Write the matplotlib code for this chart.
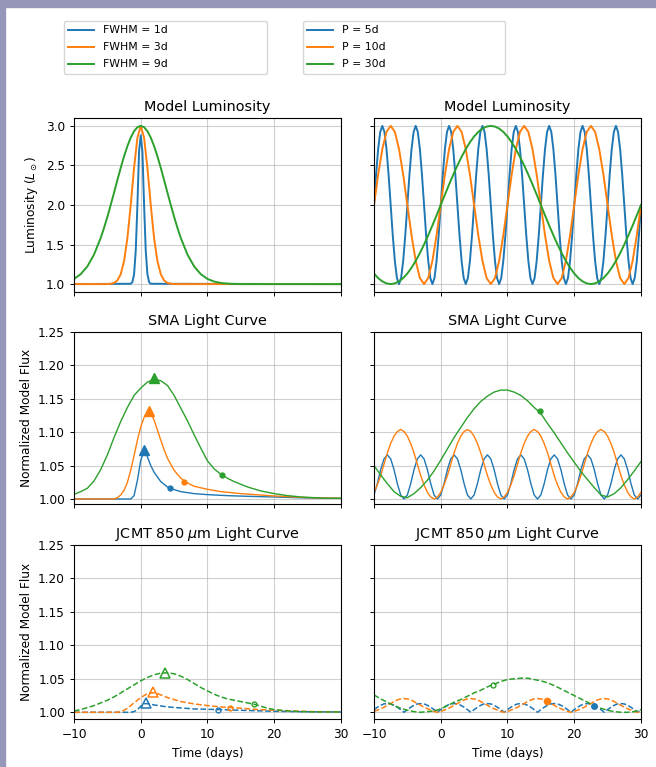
import matplotlib
matplotlib.use("Agg")
import matplotlib.pyplot as plt
import numpy as np
from matplotlib.patches import Rectangle

# ---------------- data ----------------
fwhm_labels = ["FWHM = 1d", "FWHM = 3d", "FWHM = 9d"]
period_labels = ["P = 5d", "P = 10d", "P = 30d"]
colors = ["C0", "C1", "C2"]

# model luminosity, burst (left column)
t_lum_fwhm1 = [-10, -1.5, -1.25, -1.0, -0.75, -0.5, -0.25, 0.0, 0.25, 0.5, 0.75, 1.0, 1.25, 1.5, 30]
lum_fwhm1 = [1.0, 1.004, 1.026, 1.125, 1.42, 2.0, 2.68, 2.88, 2.68, 2.0, 1.42, 1.125, 1.026, 1.004, 1.0]
t_lum_fwhm3 = [-10, -6, -5.5, -5, -4.5, -4, -3.5, -3, -2.5, -2, -1.5, -1, -0.5, 0,
               0.5, 1, 1.5, 2, 2.5, 3, 3.5, 4, 4.5, 5, 5.5, 6, 30]
lum_fwhm3 = [1.0, 1.0, 1.0, 1.001, 1.004, 1.014, 1.046, 1.125, 1.29, 1.58, 2.0, 2.47, 2.85, 3.0,
             2.85, 2.47, 2.0, 1.58, 1.29, 1.125, 1.046, 1.014, 1.004, 1.001, 1.0, 1.0, 1.0]
t_lum_fwhm9 = [-10, -9, -8, -7, -6, -5.5, -5, -4.5, -4, -3.5, -3, -2.5, -2, -1.5, -1, -0.5, 0,
               0.5, 1, 1.5, 2, 2.5, 3, 3.5, 4, 4.5, 5, 5.5, 6, 7, 8, 9, 10, 11, 12, 13, 14,
               15, 16, 30]
lum_fwhm9 = [1.065, 1.125, 1.223, 1.373, 1.583, 1.710, 1.85, 2.0, 2.156, 2.315, 2.47, 2.615,
             2.744, 2.852, 2.933, 2.983, 3.0, 2.983, 2.933, 2.852, 2.744, 2.615, 2.47, 2.315,
             2.156, 2.0, 1.85, 1.710, 1.583, 1.373, 1.223, 1.125, 1.065, 1.032, 1.014, 1.006,
             1.002, 1.0, 1.0, 1.0]

# SMA light curve, burst
t_sma_fwhm1 = [-10, -1.5, -1.0, -0.5, 0.0, 0.5, 1.0, 1.5, 2.0, 3.0, 4.0, 5.0, 6.0, 8.0,
               10.0, 13.0, 16.0, 20.0, 25.0, 30.0]
sma_fwhm1 = [1.0, 1.0, 1.005, 1.028, 1.058, 1.072, 1.063, 1.050, 1.040, 1.026, 1.018, 1.014,
             1.011, 1.008, 1.0065, 1.005, 1.004, 1.003, 1.0015, 1.001]
t_sma_fwhm3 = [-10, -4, -3.5, -3, -2.5, -2, -1.5, -1, -0.5, 0, 0.5, 1.0, 1.25, 1.5, 2, 2.5,
               3, 3.5, 4, 5, 6, 7, 8, 10, 12, 15, 20, 25, 30]
sma_fwhm3 = [1.0, 1.0, 1.002, 1.006, 1.013, 1.025, 1.043, 1.065, 1.088, 1.108, 1.122, 1.130,
             1.131, 1.129, 1.118, 1.103, 1.088, 1.074, 1.061, 1.043, 1.031, 1.024, 1.019,
             1.0145, 1.011, 1.008, 1.0045, 1.002, 1.001]
t_daily = np.linspace(-10, 30, 41)
sma_fwhm9 = [1.007, 1.011, 1.016, 1.027, 1.044, 1.066, 1.092, 1.116, 1.137, 1.155, 1.166,
             1.175, 1.179, 1.177, 1.170, 1.155, 1.136, 1.117, 1.096, 1.076, 1.057,
             1.045, 1.037, 1.031, 1.026, 1.022, 1.018, 1.015, 1.012, 1.010, 1.008,
             1.0065, 1.005, 1.004, 1.003, 1.0025, 1.002, 1.0015, 1.001, 1.001, 1.001]
sma_peak_t = [0.53, 1.24, 1.94]
sma_peak = [1.073, 1.132, 1.181]
sma_mark_t = [4.4, 6.5, 12.1]
sma_mark = [1.0165, 1.026, 1.036]

# JCMT light curve, burst
t_jcmt_fwhm1 = [-10, -1.5, -1, -0.5, 0, 0.5, 0.75, 1, 1.5, 2, 3, 4, 6, 8, 10, 12, 15, 20, 25, 30]
jcmt_fwhm1 = [1.0, 1.0, 1.001, 1.004, 1.009, 1.0125, 1.013, 1.0128, 1.012, 1.011, 1.0095,
              1.008, 1.0065, 1.005, 1.0045, 1.004, 1.003, 1.0015, 1.0008, 1.0005]
t_jcmt_fwhm3 = [-10, -3.5, -3, -2.5, -2, -1.5, -1, -0.5, 0, 0.5, 1, 1.5, 2, 2.5, 3, 4, 5, 6,
                8, 10, 12, 14, 17, 20, 25, 30]
jcmt_fwhm3 = [1.0, 1.0, 1.001, 1.003, 1.006, 1.010, 1.014, 1.018, 1.022, 1.025, 1.028, 1.029,
              1.029, 1.028, 1.026, 1.022, 1.019, 1.016, 1.0125, 1.010, 1.008, 1.0068, 1.0045,
              1.003, 1.0012, 1.0005]
jcmt_fwhm9 = [1.002, 1.004, 1.007, 1.010, 1.014, 1.018, 1.023, 1.029, 1.035, 1.041, 1.047,
              1.052, 1.056, 1.0585, 1.059, 1.0575, 1.054, 1.049, 1.043, 1.037, 1.032,
              1.027, 1.023, 1.020, 1.018, 1.016, 1.014, 1.012, 1.009, 1.006, 1.004,
              1.003, 1.002, 1.0015, 1.001, 1.001, 1.0005, 1.0005, 1.0005, 1.0005, 1.0005]
jcmt_peak_t = [0.74, 1.84, 3.58]
jcmt_peak = [1.014, 1.030, 1.058]
jcmt_mark_t = [11.6, 13.4, 17.0]
jcmt_mark = [1.004, 1.007, 1.013]

# model luminosity, periodic (right column)
t_p5 = np.linspace(-10, 30, 129)
lum_p5 = [2.0, 2.383, 2.707, 2.924, 3.0, 2.924, 2.707, 2.383, 2.0, 1.617, 1.293, 1.076, 1.0, 1.076, 1.293, 1.617,
          2.0, 2.383, 2.707, 2.924, 3.0, 2.924, 2.707, 2.383, 2.0, 1.617, 1.293, 1.076, 1.0, 1.076, 1.293, 1.617,
          2.0, 2.383, 2.707, 2.924, 3.0, 2.924, 2.707, 2.383, 2.0, 1.617, 1.293, 1.076, 1.0, 1.076, 1.293, 1.617,
          2.0, 2.383, 2.707, 2.924, 3.0, 2.924, 2.707, 2.383, 2.0, 1.617, 1.293, 1.076, 1.0, 1.076, 1.293, 1.617,
          2.0, 2.383, 2.707, 2.924, 3.0, 2.924, 2.707, 2.383, 2.0, 1.617, 1.293, 1.076, 1.0, 1.076, 1.293, 1.617,
          2.0, 2.383, 2.707, 2.924, 3.0, 2.924, 2.707, 2.383, 2.0, 1.617, 1.293, 1.076, 1.0, 1.076, 1.293, 1.617,
          2.0, 2.383, 2.707, 2.924, 3.0, 2.924, 2.707, 2.383, 2.0, 1.617, 1.293, 1.076, 1.0, 1.076, 1.293, 1.617,
          2.0, 2.383, 2.707, 2.924, 3.0, 2.924, 2.707, 2.383, 2.0, 1.617, 1.293, 1.076, 1.0, 1.076, 1.293, 1.617,
          2.0]
t_fine = np.linspace(-10, 30, 65)
lum_p10 = [2.0, 2.383, 2.707, 2.924, 3.0, 2.924, 2.707, 2.383, 2.0, 1.617, 1.293, 1.076, 1.0, 1.076, 1.293, 1.617,
           2.0, 2.383, 2.707, 2.924, 3.0, 2.924, 2.707, 2.383, 2.0, 1.617, 1.293, 1.076, 1.0, 1.076, 1.293, 1.617,
           2.0, 2.383, 2.707, 2.924, 3.0, 2.924, 2.707, 2.383, 2.0, 1.617, 1.293, 1.076, 1.0, 1.076, 1.293, 1.617,
           2.0, 2.383, 2.707, 2.924, 3.0, 2.924, 2.707, 2.383, 2.0, 1.617, 1.293, 1.076, 1.0, 1.076, 1.293, 1.617,
           2.0]
lum_p30 = [1.134, 1.076, 1.034, 1.009, 1.0,
           1.009, 1.034, 1.076, 1.134, 1.207, 1.293, 1.391, 1.5, 1.617, 1.741, 1.869, 2.0,
           2.131, 2.259, 2.383, 2.5, 2.609, 2.707, 2.793, 2.866, 2.924, 2.966, 2.991, 3.0,
           2.991, 2.966, 2.924, 2.866, 2.793, 2.707, 2.609, 2.5, 2.383, 2.259, 2.131, 2.0,
           1.869, 1.741, 1.617, 1.5, 1.391, 1.293, 1.207, 1.134, 1.076, 1.034, 1.009, 1.0,
           1.009, 1.034, 1.076, 1.134, 1.207, 1.293, 1.391, 1.5, 1.617, 1.741, 1.869, 2.0]

# SMA light curve, periodic
t_half = np.linspace(-10, 30, 81)
sma_p5 = [1.006, 1.023, 1.044, 1.060, 1.066, 1.060, 1.044, 1.023, 1.006, 1.000,
          1.006, 1.023, 1.044, 1.060, 1.066, 1.060, 1.044, 1.023, 1.006, 1.000,
          1.006, 1.023, 1.044, 1.060, 1.066, 1.060, 1.044, 1.023, 1.006, 1.000,
          1.006, 1.023, 1.044, 1.060, 1.066, 1.060, 1.044, 1.023, 1.006, 1.000,
          1.006, 1.023, 1.044, 1.060, 1.066, 1.060, 1.044, 1.023, 1.006, 1.000,
          1.006, 1.023, 1.044, 1.060, 1.066, 1.060, 1.044, 1.023, 1.006, 1.000,
          1.006, 1.023, 1.044, 1.060, 1.066, 1.060, 1.044, 1.023, 1.006, 1.000,
          1.006, 1.023, 1.044, 1.060, 1.066, 1.060, 1.044, 1.023, 1.006, 1.000,
          1.006]
sma_p10 = [1.010, 1.021, 1.035, 1.052, 1.069, 1.083, 1.094, 1.101, 1.104, 1.101,
           1.094, 1.083, 1.069, 1.052, 1.035, 1.021, 1.010, 1.003, 1.000, 1.003,
           1.010, 1.021, 1.035, 1.052, 1.069, 1.083, 1.094, 1.101, 1.104, 1.101,
           1.094, 1.083, 1.069, 1.052, 1.035, 1.021, 1.010, 1.003, 1.000, 1.003,
           1.010, 1.021, 1.035, 1.052, 1.069, 1.083, 1.094, 1.101, 1.104, 1.101,
           1.094, 1.083, 1.069, 1.052, 1.035, 1.021, 1.010, 1.003, 1.000, 1.003,
           1.010, 1.021, 1.035, 1.052, 1.069, 1.083, 1.094, 1.101, 1.104, 1.101,
           1.094, 1.083, 1.069, 1.052, 1.035, 1.021, 1.010, 1.003, 1.000, 1.003,
           1.010]
sma_p30 = [1.050, 1.036, 1.023, 1.011, 1.004, 1.002, 1.008, 1.017, 1.028, 1.042, 1.058,
           1.075, 1.092, 1.107, 1.122, 1.135, 1.146, 1.154, 1.160, 1.163, 1.163,
           1.160, 1.155, 1.147, 1.137, 1.128, 1.113, 1.099, 1.084, 1.069, 1.055,
           1.041, 1.029, 1.017, 1.006, 1.003, 1.008, 1.017, 1.029, 1.042, 1.056]
sma_p30_mark_t = [14.9]
sma_p30_mark = [1.131]

# JCMT light curve, periodic
jcmt_p5 = [1.004, 1.0075, 1.0105, 1.0125, 1.013, 1.0125, 1.0105, 1.0075, 1.004, 1.0,
           1.004, 1.0075, 1.0105, 1.0125, 1.013, 1.0125, 1.0105, 1.0075, 1.004, 1.0,
           1.004, 1.0075, 1.0105, 1.0125, 1.013, 1.0125, 1.0105, 1.0075, 1.004, 1.0,
           1.004, 1.0075, 1.0105, 1.0125, 1.013, 1.0125, 1.0105, 1.0075, 1.004, 1.0,
           1.004, 1.0075, 1.0105, 1.0125, 1.013, 1.0125, 1.0105, 1.0075, 1.004, 1.0,
           1.004, 1.0075, 1.0105, 1.0125, 1.013, 1.0125, 1.0105, 1.0075, 1.004, 1.0,
           1.004, 1.0075, 1.0105, 1.0125, 1.013, 1.0125, 1.0105, 1.0075, 1.004, 1.0,
           1.004, 1.0075, 1.0105, 1.0125, 1.013, 1.0125, 1.0105, 1.0075, 1.004, 1.0,
           1.004]
jcmt_p10 = [1.0013, 1.0032, 1.0053, 1.0075, 1.0105, 1.013, 1.016, 1.0185, 1.020, 1.0205,
            1.020, 1.0185, 1.016, 1.013, 1.0105, 1.0075, 1.0053, 1.0032, 1.0013, 1.0,
            1.0013, 1.0032, 1.0053, 1.0075, 1.0105, 1.013, 1.016, 1.0185, 1.020, 1.0205,
            1.020, 1.0185, 1.016, 1.013, 1.0105, 1.0075, 1.0053, 1.0032, 1.0013, 1.0,
            1.0013, 1.0032, 1.0053, 1.0075, 1.0105, 1.013, 1.016, 1.0185, 1.020, 1.0205,
            1.020, 1.0185, 1.016, 1.013, 1.0105, 1.0075, 1.0053, 1.0032, 1.0013, 1.0,
            1.0013, 1.0032, 1.0053, 1.0075, 1.0105, 1.013, 1.016, 1.0185, 1.020, 1.0205,
            1.020, 1.0185, 1.016, 1.013, 1.0105, 1.0075, 1.0053, 1.0032, 1.0013, 1.0,
            1.0013]
jcmt_p30 = [1.026, 1.020, 1.015, 1.010, 1.006, 1.003, 1.001, 1.000, 1.001, 1.002, 1.005,
            1.010, 1.015, 1.019, 1.024, 1.029, 1.033, 1.038, 1.042, 1.046, 1.049,
            1.050, 1.051, 1.051, 1.049, 1.047, 1.044, 1.040, 1.035, 1.030, 1.025,
            1.020, 1.015, 1.010, 1.006, 1.003, 1.001, 1.000, 1.000, 1.001, 1.004]
jcmt_per_mark_t = [23.0, 15.9, 7.9]
jcmt_per_mark = [1.010, 1.0165, 1.041]

x_ticks = [-10, 0, 10, 20, 30]
flux_ticks = [1.00, 1.05, 1.10, 1.15, 1.20, 1.25]
lum_ticks = [1.0, 1.5, 2.0, 2.5, 3.0]


def style_axis(ax, yticks, ylim, show_xlabels, show_ylabels):
    ax.set_xlim(-10, 30)
    ax.set_ylim(*ylim)
    ax.set_xticks(x_ticks)
    ax.set_yticks(yticks)
    ax.grid(True, color="#b0b0b0", alpha=0.6, linewidth=0.8)
    ax.set_axisbelow(True)
    ax.tick_params(labelsize=8.7, length=3, width=0.7,
                   labelbottom=show_xlabels, labelleft=show_ylabels)
    for sp in ax.spines.values():
        sp.set_linewidth(0.8)


def main() -> None:
    fig = plt.figure(figsize=(6.56, 7.67), dpi=100)

    # lavender frame from the screenshot
    lav = "#9696b9"
    fig.patches.append(Rectangle((0, 0), 5 / 656, 1, transform=fig.transFigure,
                                 color=lav, zorder=10))
    fig.patches.append(Rectangle((0, 1 - 7 / 767), 1, 7 / 767, transform=fig.transFigure,
                                 color=lav, zorder=10))

    xl, xr, w = 0.1128, 0.5701, 0.407
    rows = [(0.6193, 0.2269), (0.3429, 0.2243), (0.0626, 0.2269)]
    ax = [[fig.add_axes([x, b, w, h]) for x in (xl, xr)] for b, h in rows]

    # row 1: model luminosity
    burst = [(t_lum_fwhm1, lum_fwhm1), (t_lum_fwhm3, lum_fwhm3), (t_lum_fwhm9, lum_fwhm9)]
    lines = []
    for (t, y), c, lab in zip(burst, colors, fwhm_labels):
        ln, = ax[0][0].plot(t, y, color=c, lw=1.4, label=lab)
        lines.append(ln)
    periodic = [(t_p5, lum_p5), (t_fine, lum_p10), (t_fine, lum_p30)]
    per_lines = []
    for (t, y), c, lab in zip(periodic, colors, period_labels):
        ln, = ax[0][1].plot(t, y, color=c, lw=1.4, label=lab)
        per_lines.append(ln)

    # row 2: SMA
    sma_burst = [(t_sma_fwhm1, sma_fwhm1), (t_sma_fwhm3, sma_fwhm3), (t_daily, sma_fwhm9)]
    for i, ((t, y), c) in enumerate(zip(sma_burst, colors)):
        ax[1][0].plot(t, y, color=c, lw=1.0)
        ax[1][0].plot(sma_peak_t[i], sma_peak[i], "^", color=c, ms=6.5)
        ax[1][0].plot(sma_mark_t[i], sma_mark[i], "o", color=c, ms=3.5)
    for y, c in zip([sma_p5, sma_p10], colors):
        ax[1][1].plot(t_half, y, color=c, lw=1.0)
    ax[1][1].plot(t_daily, sma_p30, color="C2", lw=1.0)
    ax[1][1].plot(sma_p30_mark_t, sma_p30_mark, "o", color="C2", ms=3.5)

    # row 3: JCMT
    jcmt_burst = [(t_jcmt_fwhm1, jcmt_fwhm1), (t_jcmt_fwhm3, jcmt_fwhm3), (t_daily, jcmt_fwhm9)]
    for i, ((t, y), c) in enumerate(zip(jcmt_burst, colors)):
        ax[2][0].plot(t, y, "--", color=c, lw=1.1)
        ax[2][0].plot(jcmt_peak_t[i], jcmt_peak[i], "^", mfc="none", mec=c, ms=7.5, mew=1.1)
        ax[2][0].plot(jcmt_mark_t[i], jcmt_mark[i], "o", mfc="none", mec=c, ms=3.5, mew=1.0)
    for y, c in zip([jcmt_p5, jcmt_p10], colors):
        ax[2][1].plot(t_half, y, "--", color=c, lw=1.1)
    ax[2][1].plot(t_daily, jcmt_p30, "--", color="C2", lw=1.1)
    ax[2][1].plot(jcmt_per_mark_t[0], jcmt_per_mark[0], "o", color="C0", ms=4)
    ax[2][1].plot(jcmt_per_mark_t[1], jcmt_per_mark[1], "o", color="C1", ms=4.5)
    ax[2][1].plot(jcmt_per_mark_t[2], jcmt_per_mark[2], "o", mfc="none", mec="C2", ms=3.5, mew=1.0)

    titles = ["Model Luminosity", "SMA Light Curve", r"JCMT 850 $\mu$m Light Curve"]
    ylims = [(0.9, 3.1), (0.9925, 1.25), (0.99, 1.25)]
    yticks = [lum_ticks, flux_ticks, flux_ticks]
    for r in range(3):
        for c in range(2):
            a = ax[r][c]
            style_axis(a, yticks[r], ylims[r], r == 2, c == 0)
            a.set_title(titles[r], fontsize=10.4, pad=5)
            if r == 2:
                a.set_xlabel("Time (days)", fontsize=8.7)
    for a in (ax[1][0], ax[2][0]):
        a.yaxis.set_major_formatter(plt.FormatStrFormatter("%.2f"))
    ax[0][0].yaxis.set_major_formatter(plt.FormatStrFormatter("%.1f"))
    ax[0][0].set_ylabel(r"Luminosity ($L_\odot$)", fontsize=8.7)
    ax[1][0].set_ylabel("Normalized Model Flux", fontsize=8.7)
    ax[2][0].set_ylabel("Normalized Model Flux", fontsize=8.7)

    leg_kw = dict(loc="upper left", mode="expand", borderaxespad=0, fontsize=7.8,
                  labelspacing=0.65, handlelength=2.4)
    fig.legend(handles=lines, bbox_to_anchor=(0.0976, 0.90, 0.309, 0.0726), **leg_kw)
    fig.legend(handles=per_lines, bbox_to_anchor=(0.4619, 0.90, 0.308, 0.0726), **leg_kw)

    fig.savefig("out.png", dpi=100)
    plt.close(fig)


if __name__ == "__main__":
    main()
